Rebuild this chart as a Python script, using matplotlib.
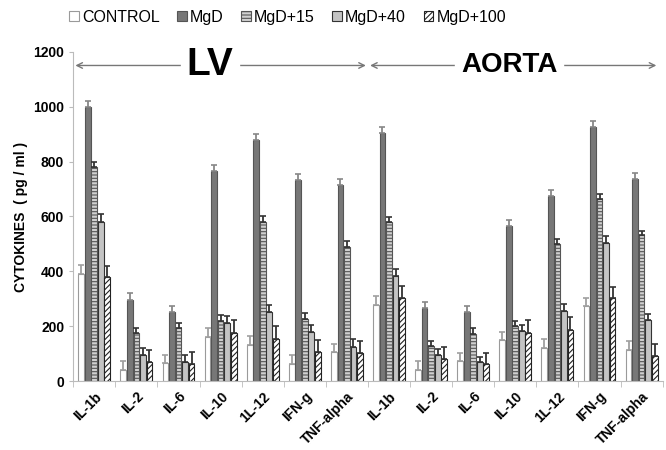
import matplotlib.pyplot as plt
import matplotlib.transforms as mtransforms
import numpy as np

# categories
cytokines = ['IL-1b', 'IL-2', 'IL-6', 'IL-10', '1L-12', 'IFN-g', 'TNF-alpha']
labels = cytokines + cytokines
groups = ['CONTROL', 'MgD', 'MgD+15', 'MgD+40', 'MgD+100']

# values (pg/ml), LV first then AORTA
control = [390, 40, 65, 160, 132, 62, 105, 279, 42, 74, 150, 120, 272, 115]
mgd = [1000, 295, 253, 765, 878, 732, 713, 904, 265, 251, 564, 674, 927, 735]
mgd15 = [780, 175, 192, 220, 580, 228, 490, 579, 127, 173, 200, 500, 664, 531]
mgd40 = [580, 95, 70, 212, 252, 180, 125, 382, 96, 68, 183, 255, 502, 221]
mgd100 = [378, 70, 63, 176, 155, 105, 102, 303, 79, 62, 177, 187, 302, 92]

err_control = [32, 35, 30, 32, 32, 35, 32, 32, 30, 28, 30, 32, 30, 30]
err_mgd = [22, 25, 22, 22, 22, 22, 22, 22, 22, 22, 22, 22, 22, 22]
err_mgd15 = [18, 20, 20, 20, 20, 20, 20, 18, 18, 20, 18, 18, 18, 15]
err_mgd40 = [28, 25, 25, 25, 25, 25, 28, 25, 20, 20, 20, 25, 25, 25]
err_mgd100 = [42, 45, 45, 45, 45, 45, 45, 42, 45, 40, 45, 45, 42, 45]

plt.rcParams['font.family'] = ['Liberation Sans', 'DejaVu Sans']
plt.rcParams['hatch.linewidth'] = 0.8

fig = plt.figure(figsize=(6.66, 4.5), dpi=100)
ax = fig.add_axes([0.11, 0.153, 0.885, 0.732])

x = np.arange(len(labels))
w = 0.155
series = [control, mgd, mgd15, mgd40, mgd100]
errs = [err_control, err_mgd, err_mgd15, err_mgd40, err_mgd100]
faces = ['white', '#777777', '#d0d0d0', '#c4c4c4', 'white']
edges = ['#9a9a9a', '#555555', '#555555', '#333333', '#222222']
hatches = [None, None, '-----', None, '//////']
ecolors = ['#a0a0a0', '#888888', '#333333', '#333333', '#333333']

for i, (vals, e) in enumerate(zip(series, errs)):
    pos = x + (i - 2) * w
    ax.bar(pos, vals, width=w * 0.88, color=faces[i], edgecolor=edges[i],
           hatch=hatches[i], linewidth=0.8, label=groups[i])
    ax.errorbar(pos, vals, yerr=[np.zeros(len(vals)), e], fmt='none',
                ecolor=ecolors[i], elinewidth=1.3, capsize=2.5, capthick=1.2)

ax.set_xlim(-0.5, len(labels) - 0.5)
ax.set_ylim(0, 1200)
ax.set_yticks(range(0, 1201, 200))
ax.set_yticklabels([str(v) for v in range(0, 1201, 200)], fontweight='bold', fontsize=10)
ax.set_xticks(x)
ax.set_xticklabels(labels, rotation=45, ha='right', rotation_mode='anchor',
                   fontweight='bold', fontsize=10)
shift = mtransforms.ScaledTranslation(6 / 100, 0, fig.dpi_scale_trans)
for lab in ax.get_xticklabels():
    lab.set_transform(lab.get_transform() + shift)
ax.tick_params(axis='x', length=0, pad=6)
ax.set_xticks(np.arange(-0.5, len(labels)), minor=True)
ax.tick_params(axis='x', which='minor', length=4, color='#bbbbbb')
ax.tick_params(axis='y', length=3, color='#bbbbbb')
for s in ['top', 'right']:
    ax.spines[s].set_visible(False)
ax.spines['left'].set_color('#bbbbbb')
ax.spines['bottom'].set_color('#bbbbbb')
ax.set_ylabel('CYTOKINES  ( pg / ml )', fontweight='bold', fontsize=10)

# section arrows
arr = dict(arrowstyle='<->', color='#777777', lw=1, shrinkA=0, shrinkB=0)
ax.annotate('', xy=(-0.45, 1150), xytext=(6.45, 1150), arrowprops=arr)
ax.annotate('', xy=(6.55, 1150), xytext=(13.35, 1150), arrowprops=arr)
ax.text(2.75, 1150, 'LV', fontsize=28, fontweight='bold', ha='center', va='center',
        backgroundcolor='white')
ax.text(9.85, 1150, 'AORTA', fontsize=20, fontweight='bold', ha='center', va='center',
        backgroundcolor='white')

fig.legend(loc='upper left', bbox_to_anchor=(0.082, 1.01), ncol=5, frameon=False,
           fontsize=11.5, handlelength=0.6, handleheight=0.6, handletextpad=0.2,
           columnspacing=1.1)

fig.savefig('out.png', dpi=100)
